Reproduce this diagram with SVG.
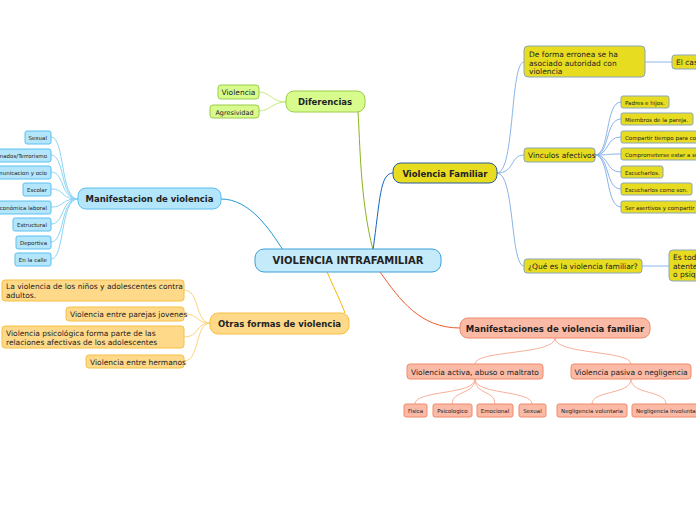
<svg xmlns="http://www.w3.org/2000/svg" width="696" height="520" viewBox="0 0 696 520">
<style>
text{font-family:"DejaVu Sans",Verdana,sans-serif;fill:#222}
.t{font-size:7.5px}.s{font-size:5.5px}.b{font-weight:bold;font-size:8.5px}
.bl rect{fill:#b3e5fb;stroke:#5cc0ee;stroke-width:1}
.gr rect{fill:#d8fb8e;stroke:#9ccc46}
.or rect{fill:#fed98a;stroke:#f6c042}
.ye rect{fill:#e8dc20;stroke:#8aa6b8}
.pk rect{fill:#fbbaa6;stroke:#ef8a6a}
.c path{fill:none;stroke-width:1}
</style>
<rect width="696" height="520" fill="#fff"/>
<g class="c">
<path d="M373 250 C360 200 360 140 358 112" stroke="#8cb21c" stroke-width="1.5"/>
<path d="M283 250 C270 230 250 199 221 199" stroke="#1e9ad6" stroke-width="1.5"/>
<path d="M327 272 C335 290 340 300 345 313" stroke="#f5b800" stroke-width="1.5"/>
<path d="M373 250 C380 200 380 173 393 173" stroke="#1565c0" stroke-width="1.5"/>
<path d="M380 272 C400 300 420 328 460 328" stroke="#f05a28" stroke-width="1.5"/>
<g stroke="#c8ec7a"><path d="M286 102 C272 102 270 92 259 92"/><path d="M286 102 C272 102 270 111 259 111"/></g>
<g stroke="#8ad4f5"><path d="M78 199 C60 199 65 137 51 137"/><path d="M78 199 C60 199 65 155 51 155"/><path d="M78 199 C60 199 65 172 51 172"/><path d="M78 199 C60 199 65 189 51 189"/><path d="M78 199 C60 199 65 207 51 207"/><path d="M78 199 C60 199 65 224 51 224"/><path d="M78 199 C60 199 65 242 51 242"/><path d="M78 199 C60 199 65 259 51 259"/></g>
<g stroke="#fbd57a"><path d="M210 323 C195 323 200 290 184 290"/><path d="M210 323 C195 323 200 314 184 314"/><path d="M210 323 C195 323 200 337 184 337"/><path d="M210 323 C195 323 200 361 184 361"/></g>
<g stroke="#8ab4e8"><path d="M497 173 C515 173 510 62 524 62"/><path d="M497 173 C515 173 510 155 524 155"/><path d="M497 173 C515 173 510 266 524 266"/><path d="M645 62 L672 62"/><path d="M642 266 L669 266"/>
<path d="M595 155 C610 155 605 102 621 102"/><path d="M595 155 C610 155 605 119 621 119"/><path d="M595 155 C610 155 605 137 621 137"/><path d="M595 155 C610 155 605 154 621 154"/><path d="M595 155 C610 155 605 172 621 172"/><path d="M595 155 C610 155 605 189 621 189"/><path d="M595 155 C610 155 605 207 621 207"/></g>
<g stroke="#f7b09a"><path d="M555 338 C555 355 475 350 475 364"/><path d="M555 338 C555 355 631 350 631 364"/>
<path d="M475 379 C475 395 415 390 415 404"/><path d="M475 379 C475 395 452 390 452 404"/><path d="M475 379 C475 395 495 390 495 404"/><path d="M475 379 C475 395 532 390 532 404"/><path d="M631 379 C631 395 592 390 592 404"/><path d="M631 379 C631 395 666 390 666 404"/></g>
</g>
<g id="central"><rect x="255" y="249" width="186" height="23" rx="9" fill="#c5ebfb" stroke="#3aa0d8"/><text x="348" y="264" text-anchor="middle" class="b" font-size="10" style="font-size:10px">VIOLENCIA INTRAFAMILIAR</text></g>
<g id="diferencias" class="gr"><rect x="286" y="91" width="79" height="21" rx="8"/><text x="325" y="105" text-anchor="middle" class="b">Diferencias</text></g>
<g id="dif-kids" class="gr"><rect x="218" y="85" width="41" height="14" rx="3"/><text x="238.5" y="95" text-anchor="middle" class="t">Violencia</text><rect x="210" y="105" width="49" height="13" rx="3"/><text x="234.5" y="114.5" text-anchor="middle" class="s" style="font-size:6.5px">Agresividad</text></g>
<g id="manif" class="bl"><rect x="78" y="188" width="143" height="21" rx="8"/><text x="149.5" y="202" text-anchor="middle" class="b">Manifestacion de violencia</text></g>
<g id="manif-kids" class="bl">
<rect x="25" y="131" width="26" height="13" rx="2"/><text x="47" y="140" text-anchor="end" class="s">Sexual</text>
<rect x="-5" y="149" width="56" height="13" rx="2"/><text x="47" y="158" text-anchor="end" class="s">nados/Terrorismo</text>
<rect x="-5" y="166" width="56" height="13" rx="2"/><text x="47" y="175" text-anchor="end" class="s">municacion y ocio</text>
<rect x="23" y="183" width="28" height="13" rx="2"/><text x="47" y="192" text-anchor="end" class="s">Escolar</text>
<rect x="-5" y="201" width="56" height="13" rx="2"/><text x="47" y="210" text-anchor="end" class="s">conómica laboral</text>
<rect x="13" y="218" width="38" height="13" rx="2"/><text x="47" y="227" text-anchor="end" class="s">Estructural</text>
<rect x="16" y="236" width="35" height="13" rx="2"/><text x="47" y="245" text-anchor="end" class="s">Deportiva</text>
<rect x="15" y="253" width="36" height="13" rx="2"/><text x="47" y="262" text-anchor="end" class="s">En la calle</text></g>
<g id="otras" class="or"><rect x="210" y="313" width="139" height="21" rx="8"/><text x="279.5" y="327" text-anchor="middle" class="b">Otras formas de violencia</text></g>
<g id="otras-kids" class="or">
<rect x="2" y="280" width="182" height="21" rx="3"/><text x="6" y="289" class="t">La violencia de los niños y adolescentes contra</text><text x="6" y="298" class="t">adultos.</text>
<rect x="66" y="307" width="118" height="14" rx="3"/><text x="70" y="317" class="t">Violencia entre parejas jovenes</text>
<rect x="2" y="326" width="182" height="22" rx="3"/><text x="6" y="336" class="t">Violencia psicológica forma parte de las</text><text x="6" y="345" class="t">relaciones afectivas de los adolescentes</text>
<rect x="86" y="355" width="98" height="13" rx="3"/><text x="90" y="364.5" class="t">Violencia entre hermanos</text></g>
<g id="vf" class="ye"><rect x="393" y="163" width="104" height="20" rx="8" style="stroke:#2a5d9c"/><text x="445" y="177" text-anchor="middle" class="b">Violencia Familiar</text></g>
<g id="vf-kids" class="ye">
<rect x="524" y="46" width="121" height="31" rx="4"/><text x="529" y="57" class="t">De forma erronea se ha</text><text x="529" y="65.5" class="t">asociado autoridad con</text><text x="529" y="74" class="t">violencia</text>
<rect x="672" y="55" width="34" height="14" rx="3"/><text x="676" y="65" class="t">El caso</text>
<rect x="524" y="148" width="71" height="14" rx="3"/><text x="528" y="158" class="t">Vinculos afectivos</text>
<rect x="524" y="259" width="118" height="14" rx="3"/><text x="528" y="269" class="t">¿Qué es la violencia familiar?</text>
<rect x="669" y="250" width="40" height="31" rx="4"/><text x="673" y="260" class="t">Es todo</text><text x="673" y="268.5" class="t">atente</text><text x="673" y="277" class="t">o psiqu</text>
<rect x="621" y="96" width="48" height="12" rx="2"/><text x="625" y="104.5" class="s">Padres e hijos.</text>
<rect x="621" y="113" width="72" height="12" rx="2"/><text x="625" y="121.5" class="s">Miembros de la pareja.</text>
<rect x="621" y="131" width="90" height="12" rx="2"/><text x="625" y="139.5" class="s">Compartir tiempo para con</text>
<rect x="621" y="148" width="90" height="12" rx="2"/><text x="625" y="156.5" class="s">Comprometerse estar a su</text>
<rect x="621" y="166" width="42" height="12" rx="2"/><text x="625" y="174.5" class="s">Escucharlos.</text>
<rect x="621" y="183" width="71" height="12" rx="2"/><text x="625" y="191.5" class="s">Escucharlos como son.</text>
<rect x="621" y="201" width="90" height="12" rx="2"/><text x="625" y="209.5" class="s">Ser asertivos y compartir</text></g>
<g id="mvf" class="pk"><rect x="460" y="318" width="190" height="20" rx="8"/><text x="555" y="331.5" text-anchor="middle" class="b">Manifestaciones de violencia familiar</text></g>
<g id="mvf-kids" class="pk">
<rect x="407" y="364" width="136" height="15" rx="3"/><text x="475" y="374.5" text-anchor="middle" class="t">Violencia activa, abuso o maltrato</text>
<rect x="571" y="364" width="120" height="15" rx="3"/><text x="631" y="374.5" text-anchor="middle" class="t">Violencia pasiva o negligencia</text>
<rect x="404" y="404" width="23" height="13" rx="2"/><text x="415.5" y="413" text-anchor="middle" class="s">Fisica</text>
<rect x="433" y="404" width="39" height="13" rx="2"/><text x="452.5" y="413" text-anchor="middle" class="s">Psicologico</text>
<rect x="477" y="404" width="36" height="13" rx="2"/><text x="495" y="413" text-anchor="middle" class="s">Emocional</text>
<rect x="519" y="404" width="27" height="13" rx="2"/><text x="532.5" y="413" text-anchor="middle" class="s">Sexual</text>
<rect x="557" y="404" width="70" height="13" rx="2"/><text x="592" y="413" text-anchor="middle" class="s">Negligencia voluntaria</text>
<rect x="632" y="404" width="74" height="13" rx="2"/><text x="636" y="413" class="s">Negligencia involuntaria</text></g>
</svg>
